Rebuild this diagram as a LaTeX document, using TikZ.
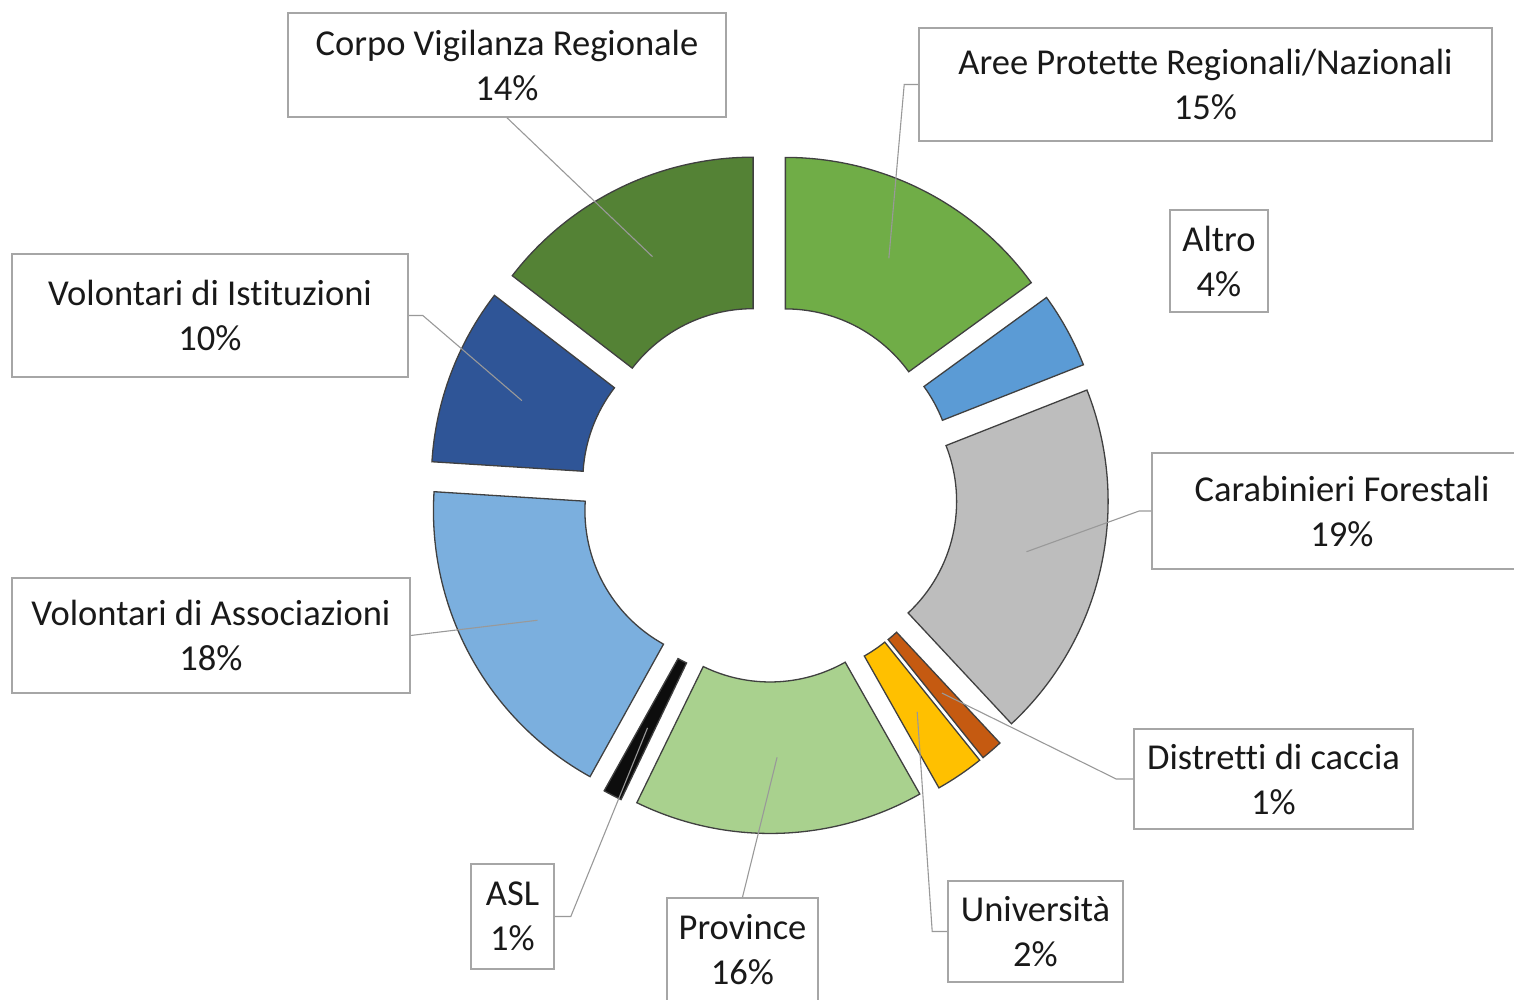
\documentclass[tikz,border=0pt]{standalone}
\usepackage{fontspec}
\setmainfont{Carlito}[Ligatures=NoCommon]
\usetikzlibrary{calc}
\definecolor{areecol}{HTML}{70AD47}
\definecolor{altrocol}{HTML}{5B9BD5}
\definecolor{carabcol}{HTML}{BDBDBD}
\definecolor{distrcol}{HTML}{C55A11}
\definecolor{univcol}{HTML}{FFC000}
\definecolor{provcol}{HTML}{A9D18E}
\definecolor{aslcol}{HTML}{0D0D0D}
\definecolor{volasscol}{HTML}{7BAFDE}
\definecolor{volistcol}{HTML}{2F5597}
\definecolor{corpocol}{HTML}{548235}
\newcommand{\lblfont}{\fontsize{36.5}{45}\selectfont}
% #1 name, #2 colour, #3 start angle, #4 end angle
\newcommand{\ringseg}[4]{%
  \pgfmathsetmacro{\segmid}{(#3+(#4))/2}
  \draw[segline, fill=#2] ($(c)+(\segmid:36pt)+(#3:304pt)$) arc[start angle=#3, end angle=#4, radius=304pt]
    -- ($(c)+(\segmid:36pt)+(#4:152.5pt)$) arc[start angle=#4, end angle=#3, radius=152.5pt] -- cycle;
  \coordinate (m#1) at ($(c)+(\segmid:264pt)$);}

\begin{document}
\begin{tikzpicture}[x=1pt, y=1pt,
  segline/.style={draw=black!75, line width=1.3pt},
  lbl/.style={draw=black!35, line width=1.6pt, fill=white, align=center, inner sep=0pt, font=\lblfont, text=black!90},
  leader/.style={draw=black!40, line width=1.1pt}]
			%%%%% START %%%%%
			\useasboundingbox (0,0) rectangle (1514,1000);
			\clip (0,0) rectangle (1514,1000);
			
			\coordinate (c) at (769,506.5);
			
			\ringseg{aree}{areecol}{90}{36}
			\ringseg{altro}{altrocol}{36}{21.5}
			\ringseg{carab}{carabcol}{21.5}{-47}
			\ringseg{distr}{distrcol}{-47}{-51.2}
			\ringseg{univ}{univcol}{-51.2}{-60.5}
			\ringseg{prov}{provcol}{-60.5}{-116}
			\ringseg{asl}{aslcol}{-115.6}{-119.2}
			\ringseg{volass}{volasscol}{-119}{-183.6}
			\ringseg{volist}{volistcol}{-183.6}{-217.6}
			\ringseg{corpo}{corpocol}{-217.6}{-270}
			
			\node[lbl, minimum width=438pt, minimum height=104pt] (corpo) at (507,935) {Corpo Vigilanza Regionale\\14\%};
			\node[lbl, minimum width=573pt, minimum height=113pt] (aree) at (1205.5,915.5) {Aree Protette Regionali/Nazionali\\15\%};
			\node[lbl, minimum width=98pt, minimum height=102pt] (altro) at (1219,739) {Altro\\4\%};
			\node[lbl, minimum width=380pt, minimum height=116pt] (carab) at (1342,489) {Carabinieri Forestali\\19\%};
			\node[lbl, minimum width=279pt, minimum height=100pt] (distr) at (1273.5,221) {Distretti di caccia\\1\%};
			\node[lbl, minimum width=175pt, minimum height=101pt] (univ) at (1035.5,68.5) {Università\\2\%};
			\node[lbl, minimum width=151pt, minimum height=104pt] (prov) at (742.5,50) {Province\\16\%};
			\node[lbl, minimum width=83pt, minimum height=105pt] (asl) at (512.5,83.5) {ASL\\1\%};
			\node[lbl, minimum width=398pt, minimum height=115pt] (volass) at (211,364.5) {Volontari di Associazioni\\18\%};
			\node[lbl, minimum width=396pt, minimum height=123pt] (volist) at (210,684.5) {Volontari di Istituzioni\\10\%};
			
			\draw[leader] (corpo.south) -- (mcorpo);
			\draw[leader] (aree.west) -- ++(-14,0) -- (maree);
			\draw[leader] (carab.west) -- ++(-12,0) -- (mcarab);
			\draw[leader] (distr.west) -- ++(-17,0) -- (mdistr);
			\draw[leader] (univ.west) -- ++(-15,0) -- (muniv);
			\draw[leader] (prov.north) -- (mprov);
			\draw[leader] (asl.east) -- ++(16,0) -- (masl);
			\draw[leader] (volass.east) -- (mvolass);
			\draw[leader] (volist.east) -- ++(14,0) -- (mvolist);
			
			%%%%% END %%%%%
\end{tikzpicture}
\end{document}
